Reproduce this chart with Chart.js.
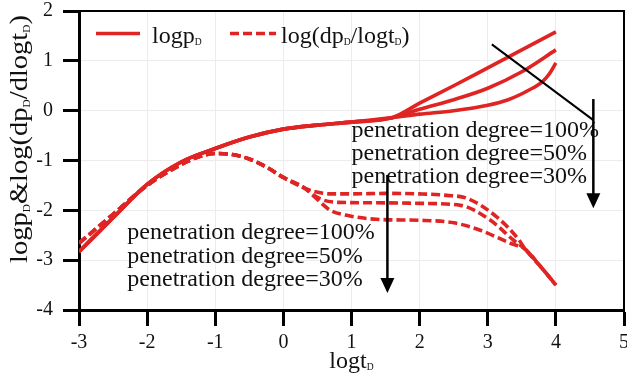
<!DOCTYPE html>
<html><head><meta charset="utf-8">
<script src="https://cdn.jsdelivr.net/npm/chart.js@4"></script>
<style>html,body{margin:0;padding:0;background:#fff}</style>
</head><body>
<canvas id="c" width="627" height="381"></canvas>
<script>
// ---- tick labels ----
const xTicks = [-3, -2, -1, 0, 1, 2, 3, 4, 5];
const yTicks = [-4, -3, -2, -1, 0, 1, 2];

// ---- logpD (solid) : common part + three branches ----
const pBaseX = [-3, -2.5, -2, -1.5, -1, -0.5, 0, 0.5, 1, 1.6];
const pBaseY = [-2.83, -2.15, -1.48, -1.03, -0.76, -0.53, -0.37, -0.29, -0.23, -0.14];
const p100X = [2, 2.5, 3, 3.5, 4];
const p100Y = [0.15, 0.5, 0.86, 1.22, 1.58];
const p50X = [2, 2.5, 3, 3.5, 4];
const p50Y = [0.03, 0.22, 0.45, 0.78, 1.22];
const p30X = [2, 2.5, 3, 3.3, 3.6, 3.8, 3.9, 4];
const p30Y = [-0.07, 0.0, 0.11, 0.22, 0.41, 0.58, 0.73, 0.96];

// ---- log(dpD/dlogtD) (dashed) : common start, three branches, common tail ----
const dBaseX = [-3, -2.5, -2, -1.5, -1.25, -1, -0.75, -0.5, -0.25, 0, 0.32];
const dBaseY = [-2.66, -2.08, -1.5, -1.08, -0.93, -0.86, -0.88, -0.97, -1.13, -1.34, -1.56];
const d100X = [0.45, 0.7, 1, 1.5, 2, 2.4, 2.7, 3.13, 3.45];
const d100Y = [-1.62, -1.67, -1.67, -1.66, -1.67, -1.7, -1.76, -2.13, -2.58];
const d50X = [0.45, 0.6, 0.8, 1.5, 2, 2.6, 3.04, 3.38];
const d50Y = [-1.7, -1.8, -1.84, -1.85, -1.86, -1.9, -2.2, -2.6];
const d30X = [0.45, 0.69, 0.93, 1.37, 2, 2.5, 2.89, 3.33];
const d30Y = [-1.72, -2.0, -2.1, -2.18, -2.2, -2.25, -2.4, -2.66];
const dTailX = [3.55, 3.77, 4.0];
const dTailY = [-2.78, -3.12, -3.5];

// ---- annotation texts ----
const annoLines = ['penetration degree=100%', 'penetration degree=50%', 'penetration degree=30%'];
const annoTopAnchor = { x: 1.0, y: [-0.52, -0.99, -1.46] };
const annoBottomAnchor = { x: -2.29, y: [-2.584, -3.054, -3.52] };
const diagLine = [[3.06, 1.33], [4.55, -0.19]];
const arrowTop = [[4.55, 0.233], [4.55, -1.956]];
const arrowBottom = [[1.527, -1.29], [1.527, -3.66]];

const RED = '#e02424';
const SERIF = '"Liberation Serif", "Times New Roman", serif';

function pts(xs, ys) { return xs.map((x, i) => ({ x: x, y: ys[i] })); }
function series(parts) { let out = []; parts.forEach(p => out = out.concat(pts(p[0], p[1]))); return out; }

const solidStyle = { borderColor: RED, borderWidth: 3.6, pointRadius: 0, showLine: true, cubicInterpolationMode: 'monotone', fill: false };
const dashStyle = Object.assign({}, solidStyle, { borderDash: [9, 4] });

const datasets = [
  Object.assign({ label: 'logpD 100%', data: series([[pBaseX, pBaseY], [p100X, p100Y]]) }, solidStyle),
  Object.assign({ label: 'logpD 50%', data: series([[pBaseX, pBaseY], [p50X, p50Y]]) }, solidStyle),
  Object.assign({ label: 'logpD 30%', data: series([[pBaseX, pBaseY], [p30X, p30Y]]) }, solidStyle),
  Object.assign({ label: 'dpD 100%', data: series([[dBaseX, dBaseY], [d100X, d100Y], [dTailX, dTailY]]) }, dashStyle),
  Object.assign({ label: 'dpD 50%', data: series([[dBaseX, dBaseY], [d50X, d50Y], [dTailX, dTailY]]) }, dashStyle),
  Object.assign({ label: 'dpD 30%', data: series([[dBaseX, dBaseY], [d30X, d30Y], [dTailX, dTailY]]) }, dashStyle),
];

// rich text with subscripts: segments [text, isSub]
function richWidth(ctx, segs, size) {
  let w = 0;
  segs.forEach(s => { ctx.font = (s[1] ? size * 0.4 : size) + 'px ' + SERIF; w += ctx.measureText(s[0]).width; });
  return w;
}
function drawRich(ctx, segs, x, y, size) {
  let cx = x;
  segs.forEach(s => {
    const fs = s[1] ? size * 0.4 : size;
    ctx.font = fs + 'px ' + SERIF;
    ctx.fillText(s[0], cx, s[1] ? y + size * 0.1 : y);
    cx += ctx.measureText(s[0]).width;
  });
}
function arrow(ctx, x1, y1, x2, y2) {
  ctx.beginPath(); ctx.moveTo(x1, y1); ctx.lineTo(x2, y2 - 12); ctx.stroke();
  ctx.beginPath(); ctx.moveTo(x2, y2); ctx.lineTo(x2 - 7, y2 - 15); ctx.lineTo(x2 + 7, y2 - 15); ctx.closePath(); ctx.fill();
}

const legendSolid = [['logp', false], ['D', true]];
const legendDash = [['log(dp', false], ['D', true], ['/logt', false], ['D', true], [')', false]];
const xTitle = [['logt', false], ['D', true]];
const yTitle = [['logp', false], ['D', true], ['&log(dp', false], ['D', true], ['/dlogt', false], ['D', true], [')', false]];

const decor = {
  id: 'decor',
  afterDraw(chart) {
    const ctx = chart.ctx, a = chart.chartArea, xs = chart.scales.x, ys = chart.scales.y;
    ctx.save();
    // top / right frame
    ctx.strokeStyle = '#000'; ctx.lineWidth = 2;
    ctx.beginPath(); ctx.moveTo(a.left, a.top); ctx.lineTo(a.right, a.top); ctx.lineTo(a.right, a.bottom); ctx.stroke();

    ctx.fillStyle = '#111'; ctx.textBaseline = 'alphabetic'; ctx.textAlign = 'left';
    // annotations text
    annoLines.forEach((t, i) => {
      ctx.font = '24px ' + SERIF;
      ctx.fillText(t, xs.getPixelForValue(annoTopAnchor.x), ys.getPixelForValue(annoTopAnchor.y[i]));
      ctx.fillText(t, xs.getPixelForValue(annoBottomAnchor.x), ys.getPixelForValue(annoBottomAnchor.y[i]));
    });
    // arrows
    ctx.strokeStyle = '#000'; ctx.fillStyle = '#000'; ctx.lineWidth = 2;
    ctx.beginPath();
    ctx.moveTo(xs.getPixelForValue(diagLine[0][0]), ys.getPixelForValue(diagLine[0][1]));
    ctx.lineTo(xs.getPixelForValue(diagLine[1][0]), ys.getPixelForValue(diagLine[1][1]));
    ctx.stroke();
    ctx.lineWidth = 2.5;
    [arrowTop, arrowBottom].forEach(ar => arrow(ctx,
      xs.getPixelForValue(ar[0][0]), ys.getPixelForValue(ar[0][1]),
      xs.getPixelForValue(ar[1][0]), ys.getPixelForValue(ar[1][1])));

    // legend
    ctx.strokeStyle = RED; ctx.lineWidth = 3.6;
    ctx.beginPath(); ctx.moveTo(96, 33.5); ctx.lineTo(140, 33.5); ctx.stroke();
    ctx.setLineDash([9, 4]);
    ctx.beginPath(); ctx.moveTo(230, 33.5); ctx.lineTo(276, 33.5); ctx.stroke();
    ctx.setLineDash([]);
    ctx.fillStyle = '#111';
    drawRich(ctx, legendSolid, 152, 43, 24);
    drawRich(ctx, legendDash, 281, 43, 24);

    // x title
    const xw = richWidth(ctx, xTitle, 24);
    drawRich(ctx, xTitle, (a.left + a.right) / 2 - xw / 2, 368, 24);

    // y title (rotated)
    const yw = richWidth(ctx, yTitle, 25);
    const stretch = 248 / yw;
    ctx.save();
    ctx.translate(27, 139);
    ctx.rotate(-Math.PI / 2);
    ctx.scale(stretch, 1);
    drawRich(ctx, yTitle, -yw / 2, 0, 25);
    ctx.restore();
    ctx.restore();
  }
};

new Chart(document.getElementById('c').getContext('2d'), {
  type: 'scatter',
  data: { datasets: datasets },
  options: {
    responsive: false,
    animation: false,
    layout: { padding: { top: 11, right: 3, left: 0, bottom: 0 } },
    plugins: { legend: { display: false }, tooltip: { enabled: false } },
    scales: {
      x: {
        type: 'linear', min: -3, max: 5,
        afterBuildTicks: s => { s.ticks = xTicks.map(v => ({ value: v })); },
        ticks: { font: { family: SERIF, size: 20 }, color: '#111', padding: 5, maxRotation: 0, autoSkip: false },
        grid: { color: '#ececec', lineWidth: 1, tickLength: 16, tickWidth: 3, tickColor: '#000' },
        border: { color: '#000', width: 3 },
        afterFit: s => { s.height = 71; s.paddingLeft = 0; s.paddingRight = 0; }
      },
      y: {
        type: 'linear', min: -4, max: 2,
        afterBuildTicks: s => { s.ticks = yTicks.map(v => ({ value: v })); },
        ticks: { font: { family: SERIF, size: 20 }, color: '#111', padding: 10, autoSkip: false },
        grid: { color: '#ececec', lineWidth: 1, tickLength: 16, tickWidth: 3, tickColor: '#000' },
        border: { color: '#000', width: 3 },
        afterFit: s => { s.width = 79; s.paddingTop = 0; s.paddingBottom = 0; }
      }
    }
  },
  plugins: [decor]
});
</script>
</body></html>
